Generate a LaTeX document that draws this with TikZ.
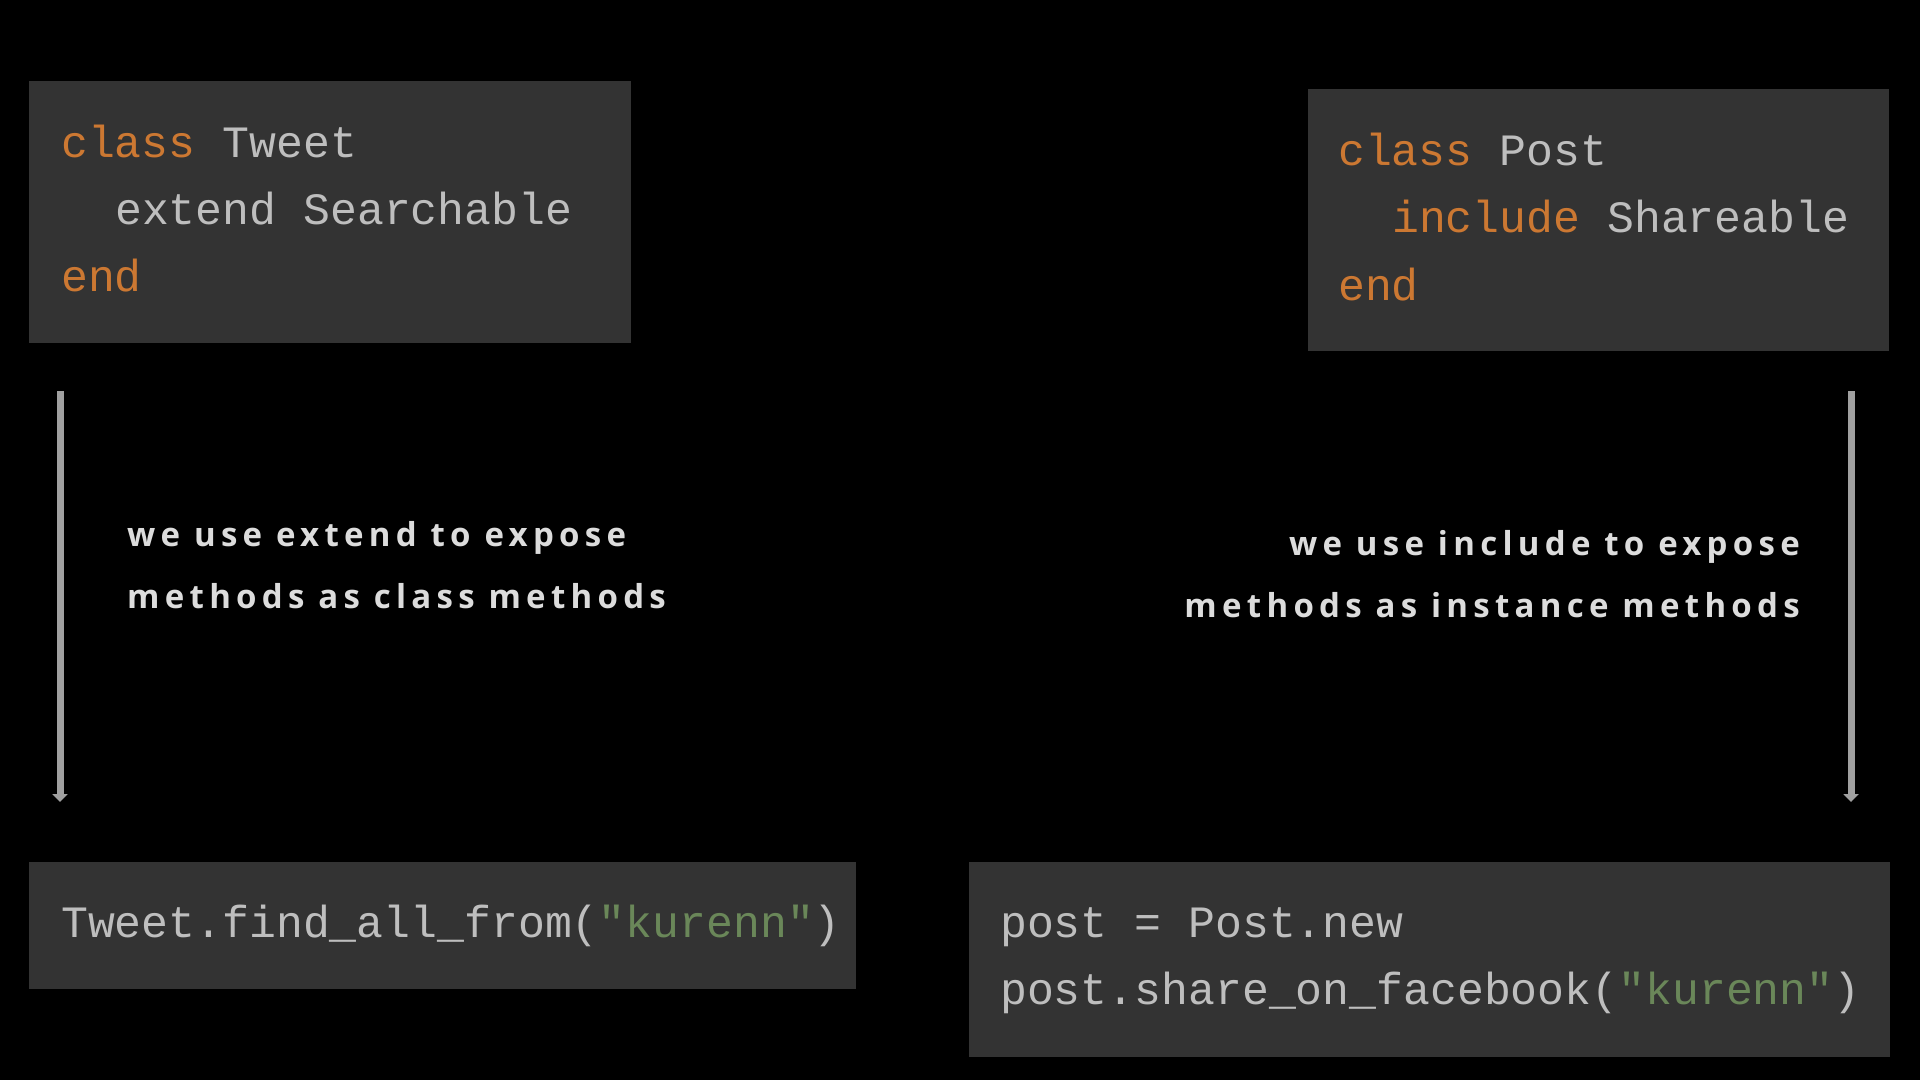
\documentclass[tikz,border=0pt]{standalone}
\usepackage{fontspec}
\usetikzlibrary{arrows.meta}
\newfontfamily\codefont{Liberation Mono}
\newfontfamily\handfont[LetterSpace=16]{Open Sans}
\definecolor{boxbg}{HTML}{333333}
\definecolor{kw}{HTML}{CC7832}
\definecolor{plain}{HTML}{BEBEBE}
\definecolor{str}{HTML}{6A8759}
\definecolor{note}{HTML}{DCDCDC}
\definecolor{arrowgray}{HTML}{A0A0A0}
\tikzset{
  codebox/.style={fill=boxbg, draw=none, inner sep=0pt, anchor=north west},
  code/.style={inner sep=0pt, anchor=base west, text=plain, font=\codefont\fontsize{44.8}{67}\selectfont},
  notel/.style={inner sep=0pt, anchor=base west, text=note, font=\handfont\bfseries\fontsize{33}{39}\selectfont},
  noter/.style={inner sep=0pt, anchor=base east, text=note, font=\handfont\bfseries\fontsize{33}{39}\selectfont},
  flowarrow/.style={draw=arrowgray, line width=7pt, -{Triangle[width=15pt,length=8pt]}}
}
\begin{document}
\begin{tikzpicture}[x=1pt,y=-1pt]
\fill[black] (0,0) rectangle (1920,1080);
\useasboundingbox (0,0) rectangle (1920,1080);

% code boxes
\node[codebox, minimum width=602pt, minimum height=262pt] (tweetbox) at (29,81) {};
\node[codebox, minimum width=581pt, minimum height=262pt] (postbox) at (1308,89) {};
\node[codebox, minimum width=827pt, minimum height=127pt] (tweetcall) at (29,862) {};
\node[codebox, minimum width=921pt, minimum height=195pt] (postcall) at (969,862) {};

% Tweet class
\node[code] (t1) at (61,157) {\textcolor{kw}{class} Tweet};
\node[code] (t2) at (115,224) {extend Searchable};
\node[code] (t3) at (61,291) {\textcolor{kw}{end}};

% Post class
\node[code] (p1) at (1338,165) {\textcolor{kw}{class} Post};
\node[code] (p2) at (1392,232) {\textcolor{kw}{include} Shareable};
\node[code] (p3) at (1338,300) {\textcolor{kw}{end}};

% calls
\node[code] (c1) at (61,937) {Tweet.find\_all\_from(\textcolor{str}{"kurenn"})};
\node[code] (c2) at (1000,937) {post = Post.new};
\node[code] (c3) at (1000,1004) {post.share\_on\_facebook(\textcolor{str}{"kurenn"})};

% arrows
\coordinate (la) at (60,391);
\coordinate (lb) at (60,802);
\coordinate (ra) at (1851,391);
\coordinate (rb) at (1851,802);
\draw[flowarrow] (la) -- (lb);
\draw[flowarrow] (ra) -- (rb);

% notes
\node[notel] (n1) at (127,546) {we use extend to expose};
\node[notel] (n2) at (127,608) {methods as class methods};
\node[noter] (n3) at (1800,555) {we use include to expose};
\node[noter] (n4) at (1800,617) {methods as instance methods};
\end{tikzpicture}
\end{document}
